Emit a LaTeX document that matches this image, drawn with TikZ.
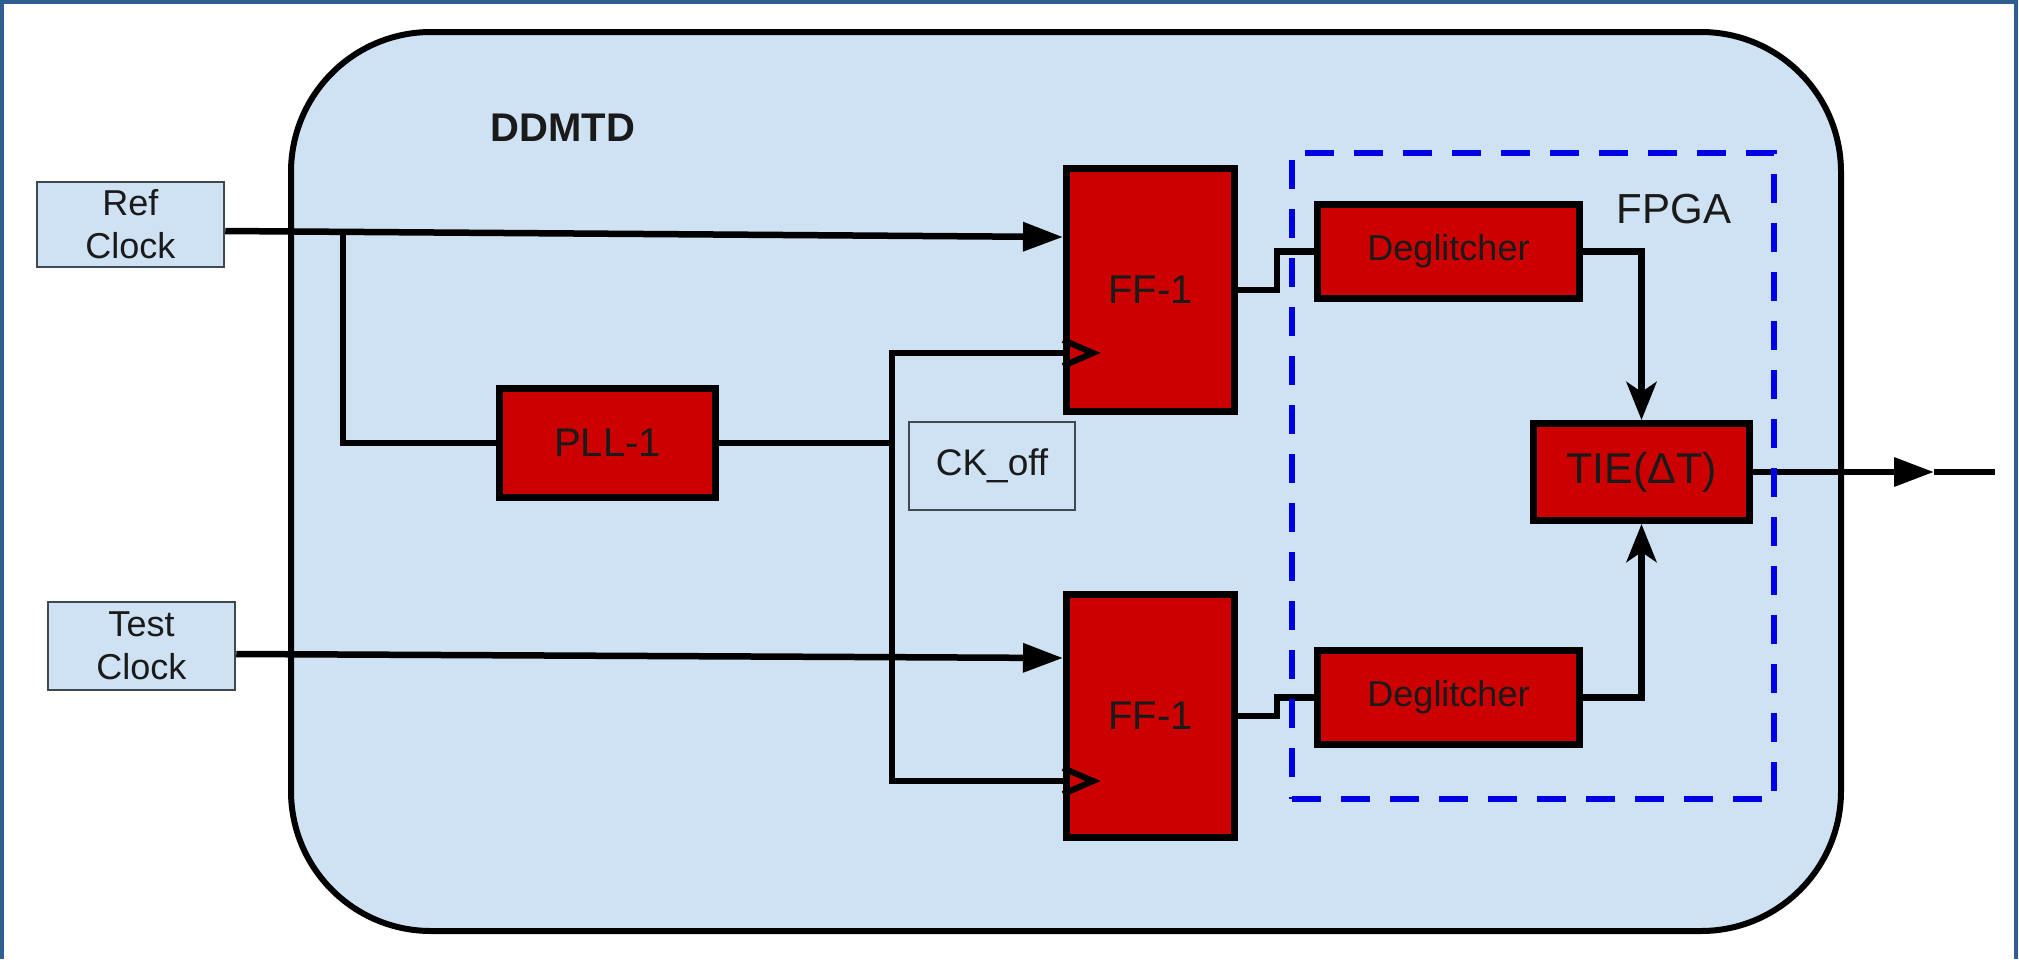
\documentclass[tikz,border=0pt]{standalone}
\usepackage{fontspec}
\setmainfont{Liberation Sans}
\usetikzlibrary{arrows.meta}
\definecolor{bgblue}{HTML}{CFE2F3}
\definecolor{blockred}{HTML}{CC0000}
\definecolor{fpgablue}{HTML}{0000E6}
\definecolor{framecol}{HTML}{2F5E93}
\definecolor{txt}{HTML}{1A1A1A}
\definecolor{boxedge}{HTML}{404850}
\begin{document}
\begin{tikzpicture}[x=1pt,y=-1pt,
  redblock/.style={draw=black, line width=7pt, fill=blockred, text=txt, inner sep=0pt, font=\fontsize{40}{44}\selectfont},
  clkbox/.style={draw=boxedge, line width=2.5pt, fill=bgblue, align=center, inner sep=0pt, font=\fontsize{36}{43}\selectfont, text=txt},
  wire/.style={line width=6.5pt, line join=miter},
  arr/.style={wire, -{Triangle[length=40pt,width=28pt]}},
  varr/.style={wire, -{Stealth[length=38pt,width=30pt,inset=10pt]}},
]
\useasboundingbox (0,0) rectangle (2019,959);
% outer frame
\draw[framecol, line width=4pt] (1.5,959) -- (1.5,1.5) -- (2016,1.5) -- (2016,959);
% DDMTD body
\node[draw=black, line width=6pt, fill=bgblue, rounded corners=140pt, minimum width=1550pt, minimum height=899pt, inner sep=0pt] (body) at (1066,481.5) {};
\node[font=\bfseries\fontsize{40}{44}\selectfont, text=txt] (title) at (563,128) {DDMTD};

% blocks
\node[clkbox, minimum width=187pt, minimum height=85pt] (ref) at (130.5,224.5) {Ref\\Clock};
\node[clkbox, minimum width=187pt, minimum height=88pt] (test) at (141.5,646) {Test\\Clock};
\node[redblock, minimum width=216pt, minimum height=109pt] (pll) at (607.5,443) {PLL-1};
\node[redblock, minimum width=168pt, minimum height=243pt] (fft) at (1150.5,290) {FF-1};
\node[redblock, minimum width=168pt, minimum height=243pt] (ffb) at (1150.5,716) {FF-1};
\node[clkbox, minimum width=166pt, minimum height=88pt, font=\fontsize{37}{40}\selectfont] (ckoff) at (992,466) {CK\_off};
\node[redblock, minimum width=262pt, minimum height=94pt, font=\fontsize{36}{40}\selectfont] (degt) at (1448.5,251.5) {Deglitcher};
\node[redblock, minimum width=262pt, minimum height=94pt, font=\fontsize{36}{40}\selectfont] (degb) at (1448.5,697.5) {Deglitcher};
\node[redblock, minimum width=216pt, minimum height=97pt, font=\fontsize{43}{46}\selectfont] (tie) at (1641.5,472) {TIE(ΔT)};

% wires
\coordinate (br) at (343,231.5);
\coordinate (ckj) at (892,443);
\draw[arr] ([yshift=-6.5pt]ref.east) -- ([yshift=53pt]fft.west);
\draw[wire] (br) |- (pll.west);
\draw[wire] (pll.east) -- (ckj);
\draw[wire] (ckj) |- ([yshift=-63pt]fft.west);
\draw[wire] (ckj) |- ([yshift=-65pt]ffb.west);
\draw[arr] ([yshift=-8pt]test.east) -- ([yshift=58pt]ffb.west);
% clock inputs
\draw[line width=6pt, line join=miter] ([yshift=-50pt]fft.west) -- ([xshift=30pt,yshift=-63pt]fft.west) -- ([yshift=-76pt]fft.west);
\draw[line width=6pt, line join=miter] ([yshift=-52pt]ffb.west) -- ([xshift=30pt,yshift=-65pt]ffb.west) -- ([yshift=-78pt]ffb.west);
% FF outputs
\draw[wire] (fft.east) -- ++(39,0) |- (degt.west);
\draw[wire] (ffb.east) -- ++(39,0) |- (degb.west);
% deglitcher to TIE
\draw[varr] (degt.east) -| (tie.north);
\draw[varr] (degb.east) -| (tie.south);
% output
\coordinate (outmid) at (1934,472);
\coordinate (outend) at (1995,472);
\draw[arr] (tie.east) -- (outmid);
\draw[wire] (outmid) -- (outend);

% FPGA region
\node[draw=fpgablue, dash pattern=on 29pt off 20pt, line width=6pt, minimum width=482pt, minimum height=646pt, inner sep=0pt] (fpga) at (1533,476) {};
\node[font=\fontsize{42}{46}\selectfont, text=txt] (fpgalabel) at (1674,209) {FPGA};
\end{tikzpicture}
\end{document}
